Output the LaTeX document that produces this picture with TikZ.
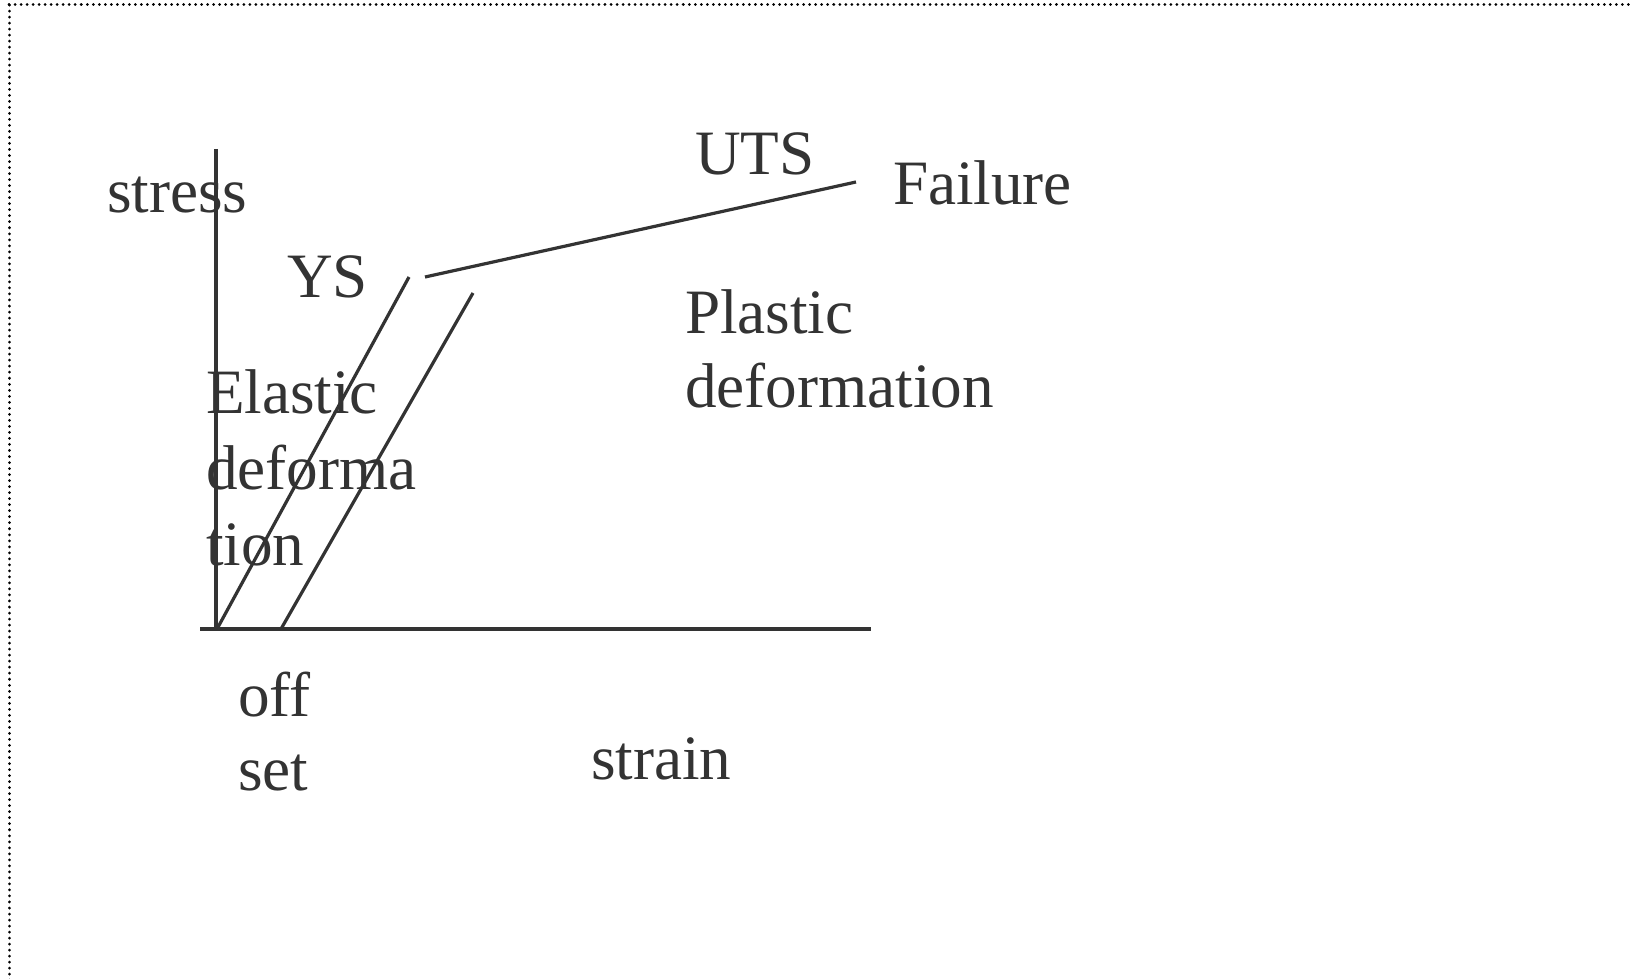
\documentclass[tikz,border=0pt]{standalone}
\usepackage{fontspec}
\setmainfont{Liberation Serif}
\definecolor{ink}{HTML}{333333}
\begin{document}
\begin{tikzpicture}[x=0.5pt,y=-0.5pt,
  lbl/.style={anchor=base west,inner sep=0pt,outer sep=0pt,text=ink,align=left,
    font=\fontsize{31.6}{38}\selectfont},
  curve/.style={draw=ink,line width=1.6pt},
  frame/.style={draw=black,line width=1.5pt,dash pattern=on 0.01pt off 3pt,line cap=round}]
\useasboundingbox (0,0) rectangle (1630,979);
\draw[frame] (9,5) -- (1640,5);
\draw[frame] (9,5) -- (9,990);
% axes
\coordinate (ytop) at (216,149);
\coordinate (ybot) at (216,629);
\coordinate (xl) at (200,629);
\coordinate (xr) at (871,629);
\draw[curve] (ytop) -- (ybot);
\draw[curve] (xl) -- (xr);
% elastic line
\coordinate (e0) at (217,629);
\coordinate (e1) at (409,277);
\draw[curve] (e0) -- (e1);
% offset line
\coordinate (f0) at (281,629);
\coordinate (f1) at (473,293);
\draw[curve] (f0) -- (f1);
% plastic line
\coordinate (p0) at (425,277);
\coordinate (p1) at (856,182);
\draw[curve] (p0) -- (p1);
% labels (multi-line nodes are placed by the baseline of their last line)
\node[lbl] (stress) at (107,213) {stress};
\node[lbl] (uts) at (695,175) {UTS};
\node[lbl] (fail) at (893,205) {Failure};
\node[lbl] (ys) at (287,298) {YS};
\node[lbl] (elastic) at (206,565) {Elastic\\deforma\\tion};
\node[lbl,font=\fontsize{31.6}{37.5}\selectfont] (plastic) at (685,408) {Plastic\\deformation};
\node[lbl,font=\fontsize{31.6}{37}\selectfont] (offset) at (238,790) {off\\set};
\node[lbl] (strain) at (591,779) {strain};
\end{tikzpicture}
\end{document}
